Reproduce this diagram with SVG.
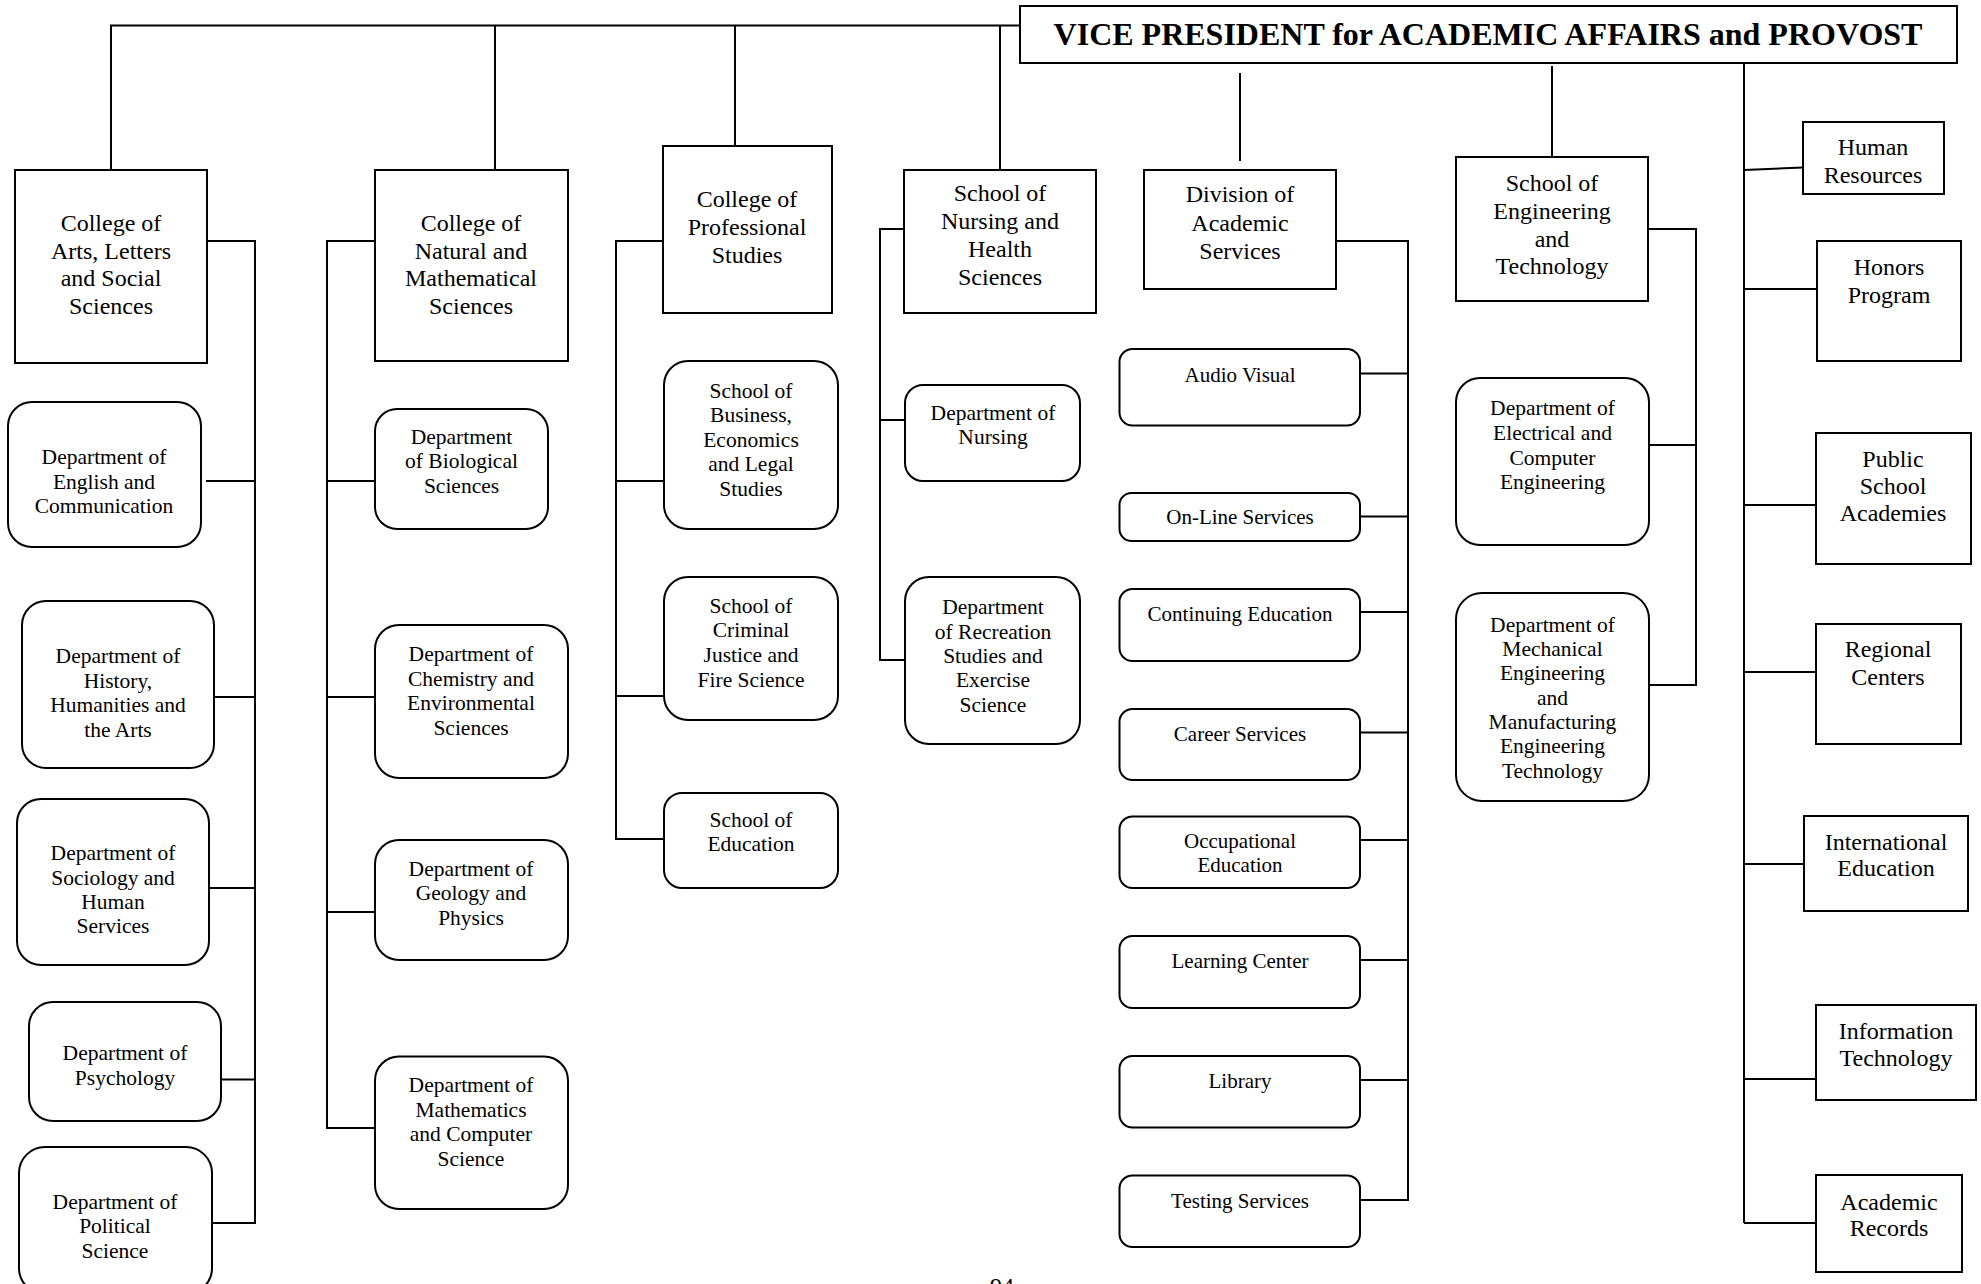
<svg xmlns="http://www.w3.org/2000/svg" width="1981" height="1284" viewBox="0 0 1981 1284">
<style>
.b{fill:#fff;stroke:#000;stroke-width:2}
.c{fill:none;stroke:#000;stroke-width:2}
text{font-family:"Liberation Serif","Times New Roman",serif;fill:#000;text-anchor:middle}
.h{font-size:24px}
.d{font-size:21.5px}
.s{font-size:21px}
.vp{font-size:32px;font-weight:bold}
</style>
<rect width="1981" height="1284" fill="#fff"/>
<g id="connectors">
<polyline class="c" points="111,170 111,25.5 1020,25.5"/>
<line class="c" x1="495" y1="25.5" x2="495" y2="170"/>
<line class="c" x1="735" y1="25.5" x2="735" y2="146"/>
<line class="c" x1="1000" y1="25.5" x2="1000" y2="170"/>
<line class="c" x1="1240" y1="73" x2="1240" y2="161"/>
<line class="c" x1="1552" y1="66" x2="1552" y2="163"/>
<line class="c" x1="1744" y1="63" x2="1744" y2="1223"/>
<!-- col1 -->
<polyline class="c" points="207,241 255,241 255,1223 212,1223"/>
<line class="c" x1="206" y1="481" x2="255" y2="481"/>
<line class="c" x1="206" y1="697" x2="255" y2="697"/>
<line class="c" x1="206" y1="888" x2="255" y2="888"/>
<line class="c" x1="221" y1="1079.5" x2="255" y2="1079.5"/>
<!-- col2 -->
<polyline class="c" points="375,241 327,241 327,1128 375,1128"/>
<line class="c" x1="327" y1="481" x2="375" y2="481"/>
<line class="c" x1="327" y1="697" x2="375" y2="697"/>
<line class="c" x1="327" y1="912" x2="375" y2="912"/>
<!-- col3 -->
<polyline class="c" points="663,241 616,241 616,839 664,839"/>
<line class="c" x1="616" y1="481" x2="664" y2="481"/>
<line class="c" x1="616" y1="696" x2="664" y2="696"/>
<!-- col4 -->
<polyline class="c" points="904,229 880,229 880,660 905,660"/>
<line class="c" x1="880" y1="420" x2="905" y2="420"/>
<!-- col5 -->
<polyline class="c" points="1336,241 1408,241 1408,1200 1360,1200"/>
<line class="c" x1="1360" y1="373.5" x2="1408" y2="373.5"/>
<line class="c" x1="1360" y1="516.5" x2="1408" y2="516.5"/>
<line class="c" x1="1360" y1="612" x2="1408" y2="612"/>
<line class="c" x1="1360" y1="732.5" x2="1408" y2="732.5"/>
<line class="c" x1="1360" y1="840" x2="1408" y2="840"/>
<line class="c" x1="1360" y1="960" x2="1408" y2="960"/>
<line class="c" x1="1360" y1="1080" x2="1408" y2="1080"/>
<!-- col6 -->
<polyline class="c" points="1648,229 1696,229 1696,685 1649,685"/>
<line class="c" x1="1649" y1="445" x2="1696" y2="445"/>
<!-- col7 -->
<line class="c" x1="1744" y1="170" x2="1803" y2="167.5"/>
<line class="c" x1="1744" y1="289" x2="1817" y2="289"/>
<line class="c" x1="1744" y1="505" x2="1816" y2="505"/>
<line class="c" x1="1744" y1="672" x2="1816" y2="672"/>
<line class="c" x1="1744" y1="864" x2="1804" y2="864"/>
<line class="c" x1="1744" y1="1079" x2="1816" y2="1079"/>
<line class="c" x1="1744" y1="1223" x2="1816" y2="1223"/>
</g>

<g id="vp"><rect class="b" x="1020" y="6" width="937" height="57"/><text class="vp" x="1488" y="44.5">VICE PRESIDENT for ACADEMIC AFFAIRS and PROVOST</text></g>

<!-- Column 1 -->
<g id="cals"><rect class="b" x="15" y="170" width="192" height="193"/><text class="h" x="111"><tspan x="111" y="231">College of</tspan><tspan x="111" y="258.5">Arts, Letters</tspan><tspan x="111" y="286">and Social</tspan><tspan x="111" y="313.5">Sciences</tspan></text></g>
<g id="english"><rect class="b" x="8" y="402" width="193" height="145" rx="24"/><text class="d"><tspan x="104" y="464">Department of</tspan><tspan x="104" y="488.5">English and</tspan><tspan x="104" y="513">Communication</tspan></text></g>
<g id="history"><rect class="b" x="22" y="601" width="192" height="167" rx="24"/><text class="d"><tspan x="118" y="663">Department of</tspan><tspan x="118" y="687.5">History,</tspan><tspan x="118" y="712">Humanities and</tspan><tspan x="118" y="736.5">the Arts</tspan></text></g>
<g id="sociology"><rect class="b" x="17" y="799" width="192" height="166" rx="24"/><text class="d"><tspan x="113" y="860">Department of</tspan><tspan x="113" y="884.5">Sociology and</tspan><tspan x="113" y="909">Human</tspan><tspan x="113" y="933">Services</tspan></text></g>
<g id="psychology"><rect class="b" x="29" y="1002" width="192" height="119" rx="24"/><text class="d"><tspan x="125" y="1060">Department of</tspan><tspan x="125" y="1085">Psychology</tspan></text></g>
<g id="political"><rect class="b" x="19" y="1147" width="193" height="147" rx="26"/><text class="d"><tspan x="115" y="1209">Department of</tspan><tspan x="115" y="1233">Political</tspan><tspan x="115" y="1258">Science</tspan></text></g>

<!-- Column 2 -->
<g id="cnms"><rect class="b" x="375" y="170" width="193" height="191"/><text class="h"><tspan x="471" y="231">College of</tspan><tspan x="471" y="258.5">Natural and</tspan><tspan x="471" y="286">Mathematical</tspan><tspan x="471" y="313.5">Sciences</tspan></text></g>
<g id="biology"><rect class="b" x="375" y="409" width="173" height="120" rx="22"/><text class="d"><tspan x="461.5" y="443.5">Department</tspan><tspan x="461.5" y="468">of Biological</tspan><tspan x="461.5" y="493">Sciences</tspan></text></g>
<g id="chemistry"><rect class="b" x="375" y="625" width="193" height="153" rx="24"/><text class="d"><tspan x="471" y="661">Department of</tspan><tspan x="471" y="686">Chemistry and</tspan><tspan x="471" y="710">Environmental</tspan><tspan x="471" y="735">Sciences</tspan></text></g>
<g id="geology"><rect class="b" x="375" y="840" width="193" height="120" rx="24"/><text class="d"><tspan x="471" y="876">Department of</tspan><tspan x="471" y="900">Geology and</tspan><tspan x="471" y="924.5">Physics</tspan></text></g>
<g id="math"><rect class="b" x="375" y="1056.5" width="193" height="152.5" rx="24"/><text class="d"><tspan x="471" y="1092">Department of</tspan><tspan x="471" y="1116.5">Mathematics</tspan><tspan x="471" y="1141">and Computer</tspan><tspan x="471" y="1165.5">Science</tspan></text></g>

<!-- Column 3 -->
<g id="cps"><rect class="b" x="663" y="146" width="169" height="167"/><text class="h"><tspan x="747" y="207">College of</tspan><tspan x="747" y="235">Professional</tspan><tspan x="747" y="262.5">Studies</tspan></text></g>
<g id="business"><rect class="b" x="664" y="361" width="174" height="168" rx="24"/><text class="d"><tspan x="751" y="398">School of</tspan><tspan x="751" y="422">Business,</tspan><tspan x="751" y="446.5">Economics</tspan><tspan x="751" y="471">and Legal</tspan><tspan x="751" y="495.5">Studies</tspan></text></g>
<g id="criminal"><rect class="b" x="664" y="577" width="174" height="143" rx="24"/><text class="d"><tspan x="751" y="613">School of</tspan><tspan x="751" y="637">Criminal</tspan><tspan x="751" y="662">Justice and</tspan><tspan x="751" y="687">Fire Science</tspan></text></g>
<g id="education"><rect class="b" x="664" y="793" width="174" height="95" rx="18"/><text class="d"><tspan x="751" y="827">School of</tspan><tspan x="751" y="851">Education</tspan></text></g>

<!-- Column 4 -->
<g id="snhs"><rect class="b" x="904" y="170" width="192" height="143"/><text class="h"><tspan x="1000" y="201">School of</tspan><tspan x="1000" y="229">Nursing and</tspan><tspan x="1000" y="257">Health</tspan><tspan x="1000" y="285">Sciences</tspan></text></g>
<g id="nursing"><rect class="b" x="905" y="385" width="175" height="96" rx="18"/><text class="d"><tspan x="993" y="419.5">Department of</tspan><tspan x="993" y="444">Nursing</tspan></text></g>
<g id="recreation"><rect class="b" x="905" y="577" width="175" height="167" rx="24"/><text class="d"><tspan x="993" y="614">Department</tspan><tspan x="993" y="638.5">of Recreation</tspan><tspan x="993" y="662.5">Studies and</tspan><tspan x="993" y="687">Exercise</tspan><tspan x="993" y="711.5">Science</tspan></text></g>

<!-- Column 5 -->
<g id="das"><rect class="b" x="1144" y="170" width="192" height="119"/><text class="h"><tspan x="1240" y="202">Division of</tspan><tspan x="1240" y="231">Academic</tspan><tspan x="1240" y="259">Services</tspan></text></g>
<g id="audio"><rect class="b" x="1119.5" y="349" width="240.5" height="76.5" rx="13"/><text class="s" x="1240" y="382">Audio Visual</text></g>
<g id="online"><rect class="b" x="1119.5" y="493" width="240.5" height="48" rx="12"/><text class="s" x="1240" y="524">On-Line Services</text></g>
<g id="continuing"><rect class="b" x="1119.5" y="589" width="240.5" height="72" rx="13"/><text class="s" x="1240" y="621">Continuing Education</text></g>
<g id="career"><rect class="b" x="1119.5" y="709" width="240.5" height="71" rx="13"/><text class="s" x="1240" y="741">Career Services</text></g>
<g id="occupational"><rect class="b" x="1119.5" y="816.5" width="240.5" height="71.5" rx="13"/><text class="s"><tspan x="1240" y="848">Occupational</tspan><tspan x="1240" y="872">Education</tspan></text></g>
<g id="learning"><rect class="b" x="1119.5" y="936" width="240.5" height="72" rx="13"/><text class="s" x="1240" y="968">Learning Center</text></g>
<g id="library"><rect class="b" x="1119.5" y="1056" width="240.5" height="71.5" rx="13"/><text class="s" x="1240" y="1088">Library</text></g>
<g id="testing"><rect class="b" x="1119.5" y="1175.5" width="240.5" height="71.5" rx="13"/><text class="s" x="1240" y="1208">Testing Services</text></g>

<!-- Column 6 -->
<g id="set"><rect class="b" x="1456" y="157" width="192" height="144"/><text class="h"><tspan x="1552" y="191">School of</tspan><tspan x="1552" y="219">Engineering</tspan><tspan x="1552" y="246.5">and</tspan><tspan x="1552" y="274">Technology</tspan></text></g>
<g id="electrical"><rect class="b" x="1456" y="378" width="193" height="167" rx="24"/><text class="d"><tspan x="1552.5" y="415">Department of</tspan><tspan x="1552.5" y="440">Electrical and</tspan><tspan x="1552.5" y="464.5">Computer</tspan><tspan x="1552.5" y="489">Engineering</tspan></text></g>
<g id="mechanical"><rect class="b" x="1456" y="593" width="193" height="208" rx="26"/><text class="d"><tspan x="1552.5" y="631.5">Department of</tspan><tspan x="1552.5" y="655.5">Mechanical</tspan><tspan x="1552.5" y="680">Engineering</tspan><tspan x="1552.5" y="704.5">and</tspan><tspan x="1552.5" y="729">Manufacturing</tspan><tspan x="1552.5" y="753">Engineering</tspan><tspan x="1552.5" y="778">Technology</tspan></text></g>

<!-- Column 7 -->
<g id="hr"><rect class="b" x="1803" y="122" width="141" height="72"/><text class="h"><tspan x="1873" y="155">Human</tspan><tspan x="1873" y="183">Resources</tspan></text></g>
<g id="honors"><rect class="b" x="1817" y="241" width="144" height="120"/><text class="h"><tspan x="1889" y="275">Honors</tspan><tspan x="1889" y="302.5">Program</tspan></text></g>
<g id="psa"><rect class="b" x="1816" y="433" width="155" height="131"/><text class="h"><tspan x="1893" y="467">Public</tspan><tspan x="1893" y="494">School</tspan><tspan x="1893" y="521">Academies</tspan></text></g>
<g id="regional"><rect class="b" x="1816" y="624" width="145" height="120"/><text class="h"><tspan x="1888" y="657">Regional</tspan><tspan x="1888" y="685">Centers</tspan></text></g>
<g id="international"><rect class="b" x="1804" y="816" width="164" height="95"/><text class="h"><tspan x="1886" y="850">International</tspan><tspan x="1886" y="876">Education</tspan></text></g>
<g id="it"><rect class="b" x="1816" y="1005" width="160" height="95"/><text class="h"><tspan x="1896" y="1039">Information</tspan><tspan x="1896" y="1066">Technology</tspan></text></g>
<g id="records"><rect class="b" x="1816" y="1175" width="146" height="97"/><text class="h"><tspan x="1889" y="1210">Academic</tspan><tspan x="1889" y="1236">Records</tspan></text></g>

<text class="h" x="1002" y="1294">94</text>
</svg>
